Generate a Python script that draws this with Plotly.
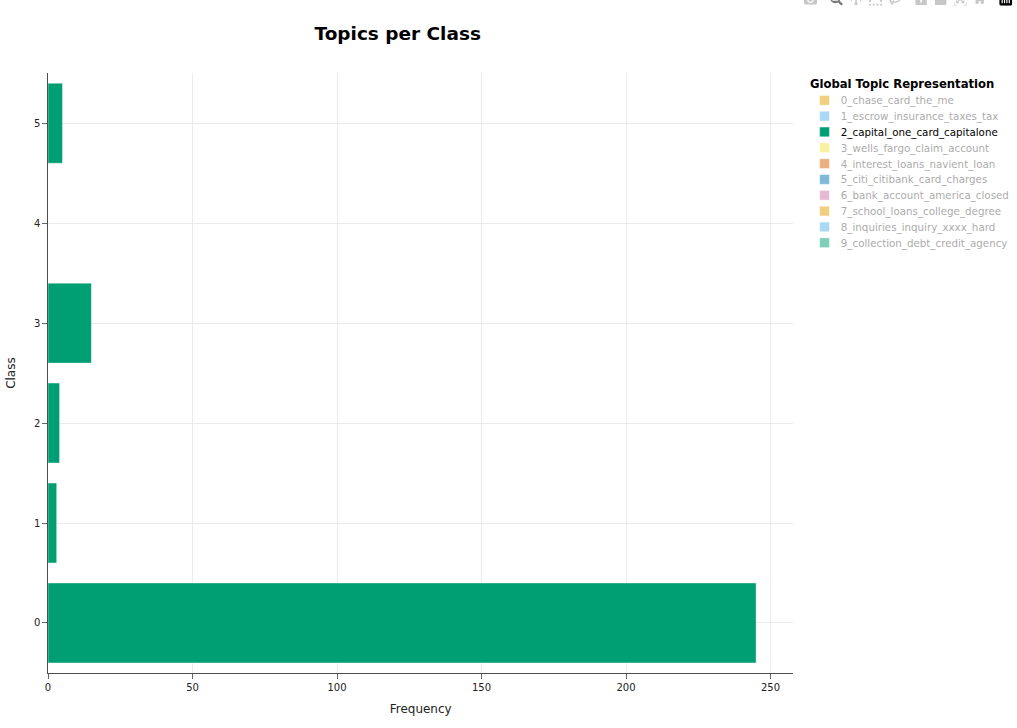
import plotly.graph_objects as go

classes = ["0", "1", "2", "3", "5"]
topic_2_freq = [245, 3, 4, 15, 5]
topics = [
    "0_chase_card_the_me",
    "1_escrow_insurance_taxes_tax",
    "2_capital_one_card_capitalone",
    "3_wells_fargo_claim_account",
    "4_interest_loans_navient_loan",
    "5_citi_citibank_card_charges",
    "6_bank_account_america_closed",
    "7_school_loans_college_degree",
    "8_inquiries_inquiry_xxxx_hard",
    "9_collection_debt_credit_agency",
]
colors = ["#E69F00", "#56B4E9", "#009E73", "#F0E442", "#D55E00",
          "#0072B2", "#CC79A7", "#E69F00", "#56B4E9", "#009E73"]
shown = "2_capital_one_card_capitalone"

fig = go.Figure()
for name, color in zip(topics, colors):
    is_shown = name == shown
    fig.add_trace(go.Bar(
        y=[int(c) for c in classes] if is_shown else [0],
        x=topic_2_freq if is_shown else [0],
        orientation="h",
        name=name,
        marker_color=color,
        visible=True if is_shown else "legendonly",
    ))

fig.update_layout(
    template="simple_white",
    width=1250,
    height=895,
    autosize=False,
    margin=dict(l=59, r=275, t=90, b=68, autoexpand=False),
    font=dict(family="DejaVu Sans", size=12, color="#2a3f5f"),
    title=dict(text="<b>Topics per Class</b>", x=0.391, xanchor="center", y=0.963,
               yanchor="top", font=dict(size=22.7, color="black", family="DejaVu Sans")),
    legend=dict(title=dict(text="<b>Global Topic Representation</b>",
                           font=dict(size=14.3, color="black")),
                x=1.02, y=1.0, font=dict(size=12.65, color="black")),
    xaxis=dict(title=dict(text="Frequency", font=dict(size=14.7, color="#222"), standoff=15),
               showgrid=True, range=[0, 257.9], tickfont=dict(size=12.3, color="#222"),
               automargin=False, ticklen=6),
    yaxis=dict(title=dict(text="Class", font=dict(size=14.7, color="#222"), standoff=19),
               showgrid=True, range=[-0.5, 5.5], dtick=1,
               tickfont=dict(size=12.3, color="#222"), automargin=False, ticklen=6),
    hovermode="closest",
)

post = """
document.body.style.margin = '0';
document.body.style.overflow = 'hidden';
var gd = document.querySelector('.plotly-graph-div');
gd.style.transformOrigin = '0 0';
gd.style.transform = 'scale(0.8137)';
var mb = document.querySelector('.modebar');
if (mb) { mb.style.top = '-12px'; }
document.querySelectorAll('.legend .traces').forEach(function (t) {
  if (parseFloat(t.style.opacity) < 1) {
    var lt = t.querySelector('.legendtext');
    if (lt) { lt.style.fill = 'rgb(85,85,85)'; }
  }
});
"""
fig.write_html("out.html", config={"displayModeBar": True}, post_script=post)
